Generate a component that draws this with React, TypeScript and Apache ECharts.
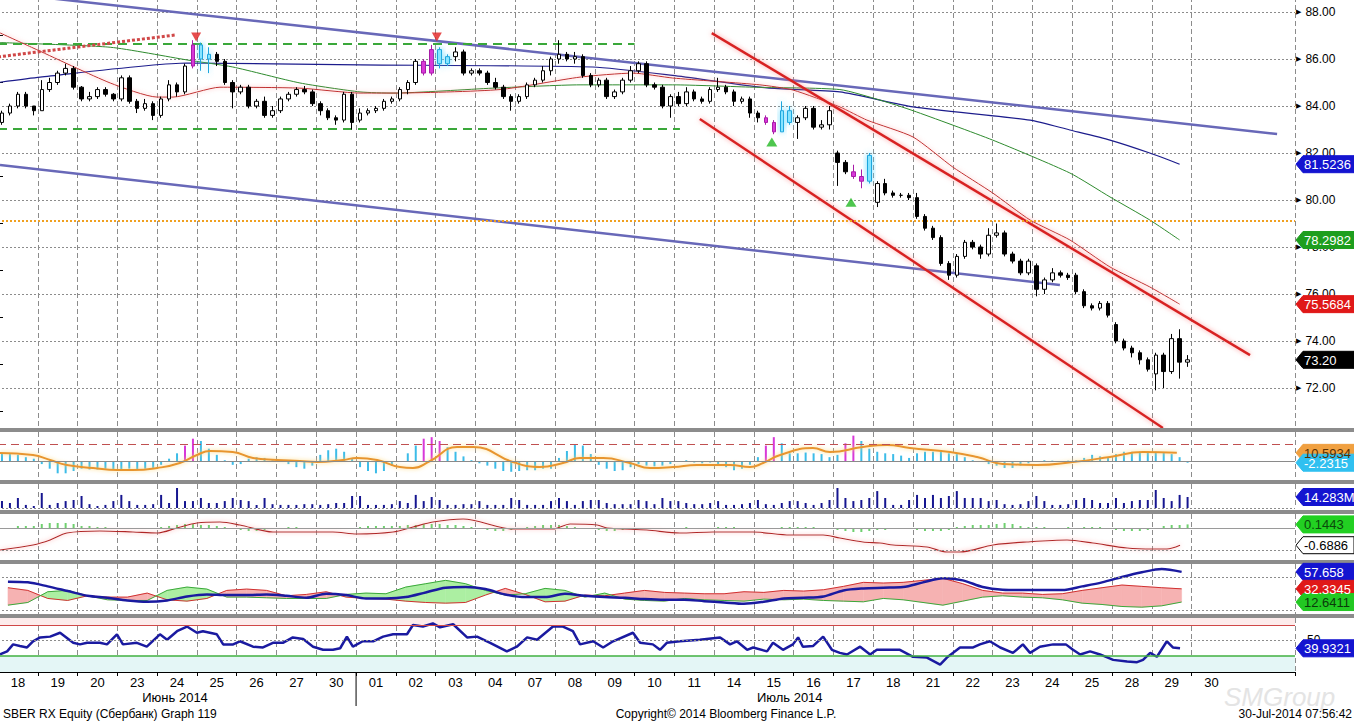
import React, { useEffect, useRef } from "react";
import * as echarts from "echarts";

const FONT = "'Liberation Sans', Arial, sans-serif";

// ---------- axis / category structure ----------
const dayLabels = ["18","19","20","23","24","25","26","27","30","01","02","03","04","07","08","09","10","11","14","15","16","17","18","21","22","23","24","25","28","29","30"];
const monthLabels = [
  { text: "Июнь 2014", day: 4.45 },
  { text: "Июль 2014", day: 19.9 },
];
const monthBreakDay = 9;
const BARS_PER_DAY = 5;
const CATEGORY_COUNT = 163;
const DAY_SPAN = CATEGORY_COUNT / BARS_PER_DAY;
const priceTicks = { min: 70, max: 90, interval: 2 };

// ---------- price candles [open, close, low, high], 5 per day ----------
const candles: number[][] = [
  // 18 Jun
  [83.3,83.7,83.2,83.8],[83.7,84.0,83.6,84.1],[84.0,84.5,83.9,84.6],[84.5,84.0,83.9,84.6],[84.0,83.8,83.6,84.0],
  // 19
  [83.8,84.7,83.8,85.1],[84.7,85.0,84.6,85.2],[85.0,85.4,84.9,85.5],[85.4,85.6,85.3,85.8],[85.6,84.8,84.7,85.7],
  // 20
  [84.8,84.3,84.2,84.85],[84.3,84.4,84.2,84.6],[84.4,84.7,84.3,84.8],[84.7,84.5,84.4,84.8],[84.5,84.3,84.2,84.55],
  // 23
  [84.3,85.2,84.2,85.3],[85.2,84.2,84.1,85.3],[84.2,83.9,83.7,84.3],[83.9,84.1,83.8,84.3],[84.1,83.6,83.4,84.2],
  // 24
  [83.6,84.3,83.5,84.4],[84.3,84.9,84.2,85.1],[84.9,84.6,84.4,85.0],[84.6,85.7,84.5,85.8],[85.7,86.6,85.6,86.8],
  // 25
  [86.6,86.0,85.5,86.7],[86.0,86.2,85.4,86.5],[86.2,85.9,85.7,86.3],[85.9,85.0,84.9,86.0],[85.0,84.6,83.9,85.1],
  // 26
  [84.6,84.8,84.5,84.9],[84.8,84.0,83.9,84.9],[84.0,84.2,83.9,84.3],[84.2,83.6,83.5,84.4],[83.6,83.8,83.5,84.0],
  // 27
  [83.8,84.3,83.7,84.4],[84.3,84.5,84.2,84.6],[84.5,84.7,84.4,84.8],[84.7,84.6,84.5,84.85],[84.6,84.1,84.0,84.7],
  // 30
  [84.1,83.8,83.6,84.2],[83.8,83.5,83.4,83.9],[83.5,83.4,83.2,83.6],[83.4,84.5,83.3,84.6],[84.5,83.3,83.0,84.6],
  // 01 Jul
  [83.4,83.7,83.3,83.9],[83.7,83.8,83.6,83.9],[83.8,83.9,83.7,84.0],[83.9,84.2,83.8,84.3],[84.2,84.3,84.1,84.4],
  // 02
  [84.3,84.7,84.2,84.8],[84.7,85.0,84.5,85.1],[85.0,85.9,84.9,86.0],[85.9,85.4,85.3,86.0],[85.4,86.4,85.3,86.6],
  // 03
  [86.4,85.8,85.6,86.5],[85.8,86.1,85.7,86.2],[86.1,86.3,85.9,86.5],[86.3,85.4,85.3,86.4],[85.4,85.5,85.3,85.6],
  // 04
  [85.5,85.4,85.3,85.6],[85.4,85.0,84.9,85.5],[85.0,84.8,84.7,85.2],[84.8,84.4,84.3,84.9],[84.4,84.2,83.8,84.5],
  // 07
  [84.2,84.4,84.1,84.5],[84.4,84.9,84.3,85.0],[84.9,85.1,84.8,85.2],[85.1,85.5,85.0,85.7],[85.5,86.0,85.3,86.1],
  // 08
  [86.0,86.2,85.8,86.8],[86.2,86.0,85.9,86.3],[86.0,86.1,85.8,86.3],[86.1,85.3,85.2,86.2],[85.3,84.9,84.8,85.4],
  // 09
  [84.9,85.1,84.8,85.2],[85.1,84.4,84.3,85.2],[84.4,84.6,84.3,84.7],[84.6,85.1,84.5,85.2],[85.1,85.5,85.0,85.7],
  // 10
  [85.5,85.8,85.4,85.9],[85.8,84.9,84.8,85.9],[84.9,84.8,84.7,85.0],[84.8,84.0,83.9,84.9],[84.0,84.4,83.5,84.5],
  // 11
  [84.4,84.1,84.0,84.6],[84.1,84.6,84.0,84.8],[84.6,84.3,84.2,84.7],[84.3,84.2,84.1,84.4],[84.2,84.7,84.1,84.8],
  // 14
  [84.7,84.8,84.6,85.2],[84.8,84.6,84.5,84.9],[84.6,84.2,84.0,84.7],[84.2,84.3,84.1,84.4],[84.3,83.7,83.5,84.4],
  // 15
  [83.7,83.5,83.3,83.8],[83.5,83.3,83.2,83.6],[83.3,82.9,82.8,83.4],[82.9,83.8,82.9,84.2],[83.8,83.3,83.2,84.0],
  // 16
  [83.3,83.5,82.6,83.6],[83.5,83.9,83.4,84.0],[83.9,83.1,83.0,84.0],[83.1,83.2,83.0,83.4],[83.2,83.8,83.0,84.0],
  // 17
  [82.0,81.6,80.6,82.1],[81.6,81.2,81.1,81.7],[81.2,81.0,80.9,81.5],[81.0,80.8,80.5,81.3],[80.8,81.9,80.7,82.0],
  // 18
  [79.9,80.7,79.7,80.8],[80.7,80.3,80.2,80.9],[80.3,80.2,80.1,80.4],[80.2,80.2,80.1,80.3],[80.2,80.1,80.0,80.3],
  // 21
  [80.1,79.3,79.2,80.3],[79.3,78.8,78.7,79.4],[78.8,78.4,78.3,78.9],[78.4,77.3,77.2,78.5],[77.3,76.8,76.6,77.4],
  // 22
  [76.8,77.6,76.7,77.7],[77.6,78.2,77.5,78.3],[78.2,78.0,77.9,78.3],[78.0,77.7,77.5,78.1],[77.7,78.5,77.6,78.8],
  // 23
  [78.5,78.6,78.4,79.0],[78.6,77.7,77.6,78.7],[77.7,77.4,77.3,77.8],[77.4,76.9,76.8,77.5],[76.9,77.4,76.8,77.5],
  // 24
  [77.2,76.2,75.9,77.3],[76.2,76.6,76.0,76.7],[76.6,76.9,76.5,77.1],[76.9,76.8,76.7,77.0],[76.8,76.7,76.6,76.9],
  // 25
  [76.8,76.1,76.0,76.9],[76.1,75.5,75.4,76.2],[75.5,75.4,75.3,75.6],[75.4,75.6,75.3,75.7],[75.6,75.1,75.0,75.7],
  // 28
  [74.7,74.0,73.9,74.8],[74.0,73.7,73.6,74.1],[73.7,73.5,73.3,73.8],[73.5,73.2,73.0,73.6],[73.2,72.8,72.7,73.3],
  // 29
  [72.6,73.4,71.9,73.5],[73.4,72.7,72.0,73.5],[72.7,74.1,72.6,74.3],[74.1,73.1,72.4,74.5],[73.1,73.2,72.9,73.4],
];
const magentaCandles = [24, 53, 54, 96, 97, 107, 108];
const cyanCandles = [25, 26, 55, 56, 98, 99, 109];

// moving averages [day position, price]
const maBlue = [[0,85.0],[1.06,85.23],[4.75,85.83],[9.1,85.75],[14.95,85.66],[16.96,85.3],[19.33,84.77],[21.16,84.6],[23.0,83.96],[25.94,83.4],[26.94,82.98],[27.95,82.55],[28.95,82.0],[29.7,81.5236]];
const maGreen = [[0,86.7],[2.82,86.5],[4.75,85.96],[5.9,85.66],[7.59,84.98],[9.1,84.6],[9.93,84.55],[12.44,84.76],[14.63,84.9],[16.96,84.9],[18.98,84.8],[21.16,84.7],[22.17,84.25],[23.0,83.8],[25.0,82.55],[26.94,81.15],[27.95,80.13],[28.95,79.15],[29.7,78.2982]];
const maRed = [[0,87.15],[0.88,86.47],[2.82,84.98],[4.0,84.38],[4.4,84.38],[5.58,84.8],[7.59,84.76],[9.1,84.55],[9.93,84.55],[12.62,84.7],[14.63,85.23],[15.96,85.4],[16.96,85.19],[19.15,84.9],[19.98,84.68],[21.16,83.96],[21.84,83.4],[23.0,82.68],[24.0,81.4],[25.0,80.3],[25.94,79.15],[26.94,78.3],[27.95,77.15],[28.95,76.3],[29.7,75.5684]];

// drawn studies
const trendUpperSlate = [[0,88.83],[32.15,82.81]];
const trendLowerSlate = [[0.05,81.49],[26.69,76.38]];
const channelUpper = [[17.94,87.1],[31.47,73.4]];
const channelLower = [[17.64,83.45],[29.28,70.3]];
const greenDashUpper = [[0,86.64],[16.0,86.64]];
const greenDashLower = [[0,83.02],[17.14,83.02]];
const redDotted = [[0,86.09],[4.45,87.02]];
const orangeLevel = 79.12;
const sellSignals = [[4.98,86.94],[11.03,86.94]];
const buySignals = [[19.45,82.47],[21.44,79.9]];

const priceTags = [
  { value: 81.5236, text: "81.5236", bg: "#1414d0", fg: "#ffffff" },
  { value: 78.2982, text: "78.2982", bg: "#1e9e1e", fg: "#ffffff" },
  { value: 75.5684, text: "75.5684", bg: "#e01818", fg: "#ffffff" },
  { value: 73.2, text: "73.20", bg: "#000000", fg: "#ffffff" },
];

// ---------- panel 1: oscillator histogram + signal ----------
const oscHist = [
  9,9,8,5,3, -4,-10,-16,-16,-13, -10,-11,-11,-10,-11, -11,-10,-11,-10,-9, -5,3,10,20,29,
  26,16,8,1,-5, -4,3,5,4,1, 0,-4,-8,-10,-6, 8,14,16,12,4, -8,-13,-16,-13,-6,
  -1,10,20,29,31, 26,18,12,6,1, -3,-6,-10,-13,-14, -13,-12,-12,-10,-10, 4,13,21,20,9,
  -5,-10,-13,-12,-8, -4,-6,-7,-6,-4, -1,1,-2,-3,-2, -4,-8,-12,-10,-5, 5,20,31,23,10,
  10,11,10,9,5, 8,23,33,26,16, 12,10,9,7,4, 10,12,12,12,10, 9,5,1,-1,-4,
  -6,-9,-9,-6,-3, -1,1,0.5,-0.5,0.5, 1,4,8,6,4, 9,12,12,12,12, 12,11,9,5,-2.2315,
];
const oscHistMagenta = [23, 24, 53, 54, 55, 96, 97, 106, 107];
const oscSignal = [[0.05,10.4],[0.88,7.8],[1.31,1.3],[1.73,-5.2],[2.39,-9.1],[2.99,-11.7],[3.39,-11.7],[4.0,-9.1],[4.57,-2.6],[5.0,7.8],[5.33,13],[5.9,11.7],[6.41,3.9],[7.01,1.3],[7.59,0],[8.02,-1.3],[8.67,1.3],[9.02,3.9],[9.53,1.3],[10.1,-7.8],[10.43,-9.1],[10.86,0],[11.54,18.2],[11.94,18.2],[12.94,-1.3],[13.62,-7.8],[14.2,-2.6],[14.63,3.9],[15.21,3.9],[15.88,-2.6],[16.39,-9.1],[16.97,-7.8],[17.57,-5.2],[18.4,-5.2],[18.9,-7.8],[19.23,-2.6],[19.66,7.8],[20.48,16.9],[20.91,11.7],[21.74,18.2],[22.34,20.8],[22.92,16.9],[23.93,11.7],[24.61,5.2],[25.26,-3.9],[26.11,-5.2],[27.02,-1.3],[27.95,5.2],[28.78,11.7],[29.63,10.5934]];
const oscLevel = 22.1;

// ---------- panel 2: volume (millions) ----------
const volume = [
  9,6.5,13,4,2.6, 19.5,4,6.5,9,10.4, 15.6,5,2.6,4,9, 17,9,4,4,5, 17,6.5,26,9,9,
  13,6.5,6.5,9,13, 10.4,9,4,13,5, 4,4,4,5,5, 4,5,6.5,6.5,15.6, 15.6,4,4,4,5,
  9,6.5,17,9,14.3, 10.4,4,4,5,5, 9,4,4,4,13, 10.4,4,4,4,9, 13,9,4,9,10.4,
  10.4,6.5,5,5,5, 10.4,9,5,13,9, 9,6.5,5,5,6.5, 9,4,4,5,6.5, 10.4,5,4,6.5,9,
  9,6.5,4,6.5,10.4, 26,13,9,10.4,13, 22,13,4,4,10.4, 17,13,17,13,15.6, 22,13,13,13,9,
  10.4,5,4,5,9, 15.6,9,4,4,5, 10.4,13,10.4,6.5,6.5, 13,6.5,9,10.4,10.4, 23.4,13,9,17,14.283,
];

// ---------- panel 3: histogram + line ----------
const p3Hist = [
  0,0,0.08,0.08,0.08, 0.16,0.2,0.2,0.2,0.16, 0.08,0.08,0.04,0.04,0, 0,0,0,0,0, 0.04,0.08,0.12,0.16,0.16,
  0.12,0.12,0.08,0.04,0, -0.08,-0.12,-0.12,-0.08,-0.04, 0,0.04,0.04,0,0, 0,0,0,0,0, 0.04,0.08,0.08,0.08,0.08,
  0.08,0.12,0.12,0.16,0.16, 0.16,0.12,0.12,0.08,0.04, -0.04,-0.08,-0.12,-0.12,-0.08, 0,0.04,0.08,0.12,0.12, 0.12,0.08,0.04,0,-0.04,
  -0.08,-0.12,-0.12,-0.08,-0.04, 0,0,0,0,0, 0,0.04,0,0,0, 0.04,0.04,0.04,0,0, 0,0,0,0.04,0.04,
  0.04,0.04,0.04,0,0, -0.08,-0.12,-0.16,-0.16,-0.12, -0.08,-0.08,-0.04,-0.04,0, -0.08,-0.12,-0.12,-0.12,-0.08, 0.04,0.08,0.12,0.12,0.12,
  0.16,0.2,0.16,0.08,0.04, 0.04,0.04,0,0,0.04, 0,0.04,0.04,0.04,0, -0.08,-0.12,-0.12,-0.12,-0.08, 0,0.08,0.12,0.12,0.1443,
];
const p3Line = [[0.05,-0.88],[0.88,-0.68],[1.31,-0.48],[1.73,-0.2],[2.56,-0.12],[3.39,-0.16],[4.0,-0.2],[4.5,0],[5.0,0.2],[5.58,0.24],[6.08,0.12],[6.91,-0.16],[7.59,-0.16],[8.42,-0.16],[9.02,-0.24],[9.93,-0.16],[10.43,0.04],[10.93,0.24],[11.69,0.36],[12.94,-0.04],[13.95,-0.04],[14.38,0.16],[15.06,0.12],[15.31,0],[16.31,-0.08],[17.14,-0.2],[17.97,-0.16],[18.98,-0.16],[19.91,-0.28],[20.74,-0.28],[21.16,-0.4],[21.74,-0.56],[22.17,-0.6],[22.5,-0.68],[23.35,-0.76],[23.85,-0.96],[24.18,-0.96],[25.01,-0.68],[25.86,-0.56],[26.87,-0.48],[27.52,-0.6],[28.38,-0.8],[29.03,-0.84],[29.38,-0.84],[29.71,-0.6886]];
const p3Dotted = -0.88;

// ---------- panel 4: DMI (two points per day) ----------
const dmiPlus = [34,30,18,15,22,20,20,26,16,14,18,30,32,30,22,24,28,20,18,17,14,12,11,12,23,33,24,13,14,23,22,26,30,27,26,25,25,28,27,30,29,31,36,42,41,42,45,48,40,30,26,26,24,25,30,34,38,36,34,32.3345];
const dmiMinus = [8,12,28,30,22,16,15,15,30,35,32,20,20,19,18,18,18,24,26,25,35,40,45,40,30,23,25,33,30,20,26,17,15,14,18,16,15,14,17,16,17,15,14,13,18,16,12,8,14,20,22,20,19,16,11,9,6,5,7,12.6411];
const adx = [43,42,36,29,22,19,15,13,15,21,24,23,23,24,22,19,25,23,18,18,20,27,34,35,32,24,20,20,25,22,20,19,17,16,16,14,12,10,13,18,19,21,30,33,34,35,42,48,45,35,31,30.5,30.5,30.5,36,42,50,57,62,57.658];

// ---------- panel 5: RSI ----------
const rsi = [[0.05,32],[0.23,36],[0.38,45],[0.55,43],[0.73,41],[0.88,49],[1.06,54],[1.31,55],[1.56,60],[1.89,47],[2.06,45],[2.24,47],[2.56,47],[2.74,45],[2.99,58],[3.14,45],[3.49,47],[3.74,42],[4.07,58],[4.25,51],[4.5,62],[4.75,68],[5.0,60],[5.15,62],[5.5,58],[5.66,45],[5.91,45],[6.08,49],[6.41,42],[6.66,41],[6.91,47],[7.16,47],[7.41,54],[7.67,52],[7.92,42],[8.17,38],[8.42,38],[8.6,40],[8.77,55],[8.92,42],[9.17,49],[9.43,49],[9.68,55],[9.93,58],[10.28,58],[10.43,70],[10.68,68],[10.93,72],[11.11,67],[11.44,71],[11.79,54],[12.04,55],[12.37,47],[12.79,36],[13.04,42],[13.3,54],[13.55,51],[13.95,68],[14.2,68],[14.45,62],[14.63,45],[14.96,49],[15.21,41],[15.46,49],[15.96,60],[16.14,47],[16.46,45],[16.64,38],[16.81,47],[17.14,49],[17.64,51],[18.15,54],[18.4,45],[18.57,49],[18.83,38],[18.98,41],[19.33,36],[19.48,47],[19.73,38],[19.98,45],[20.11,54],[20.23,42],[20.49,43],[20.74,55],[20.96,38],[21.16,34],[21.34,32],[21.67,42],[21.92,32],[22.09,38],[22.42,38],[22.67,38],[23.0,29],[23.35,28],[23.68,19],[23.85,28],[24.0,34],[24.18,41],[24.51,41],[24.68,45],[24.93,49],[25.19,41],[25.51,34],[25.76,45],[25.94,34],[26.19,42],[26.52,45],[26.84,45],[27.02,38],[27.2,32],[27.45,36],[27.7,32],[28.03,25],[28.38,23],[28.63,22],[28.78,25],[28.96,34],[29.13,29],[29.38,49],[29.53,41],[29.71,39.9321]];
const rsiLevels = { high: 70, mid: 50, low: 30 };

const subTags = [
  { axis: 1, value: 10.5934, text: "10.5934", bg: "#f0a040", fg: "#5a3000" },
  { axis: 1, value: -2.2315, text: "-2.2315", bg: "#30c0f0", fg: "#ffffff" },
  { axis: 2, value: 14.283, text: "14.283M", bg: "#1414d0", fg: "#ffffff" },
  { axis: 3, value: 0.1443, text: "0.1443", bg: "#22d022", fg: "#0a4a0a" },
  { axis: 3, value: -0.6886, text: "-0.6886", bg: "#ffffff", fg: "#000000", border: "#000000" },
  { axis: 4, value: 57.658, text: "57.658", bg: "#1414d0", fg: "#ffffff" },
  { axis: 4, value: 32.3345, text: "32.3345", bg: "#e01818", fg: "#ffffff" },
  { axis: 4, value: 12.6411, text: "12.6411", bg: "#22c822", fg: "#0a3a0a" },
  { axis: 5, value: 39.9321, text: "39.9321", bg: "#1414d0", fg: "#ffffff" },
];

// ---------- layout ----------
const panels = [
  { top: -35, height: 470, min: priceTicks.min, max: priceTicks.max },
  { top: 432, height: 48, min: -24.7, max: 37.7 },
  { top: 484, height: 24, min: 0, max: 31.2 },
  { top: 514, height: 46, min: -1.28, max: 0.56 },
  { top: 564, height: 50, min: -5.2, max: 69.4 },
  { top: 618, height: 54, min: 9.36, max: 79.03 },
];
const separatorsY = [428, 480, 510, 560, 614];

const isDayBoundary = (i: number) => i % BARS_PER_DAY === 0 && i > 0 && i <= 150;
const dmiX = (i: number) => Math.floor(i / 2) + (i % 2 ? 0.75 : 0.25);

function lineS(xIdx: number, yIdx: number, data: any[], lineStyle: any, extra: any = {}) {
  return { type: "line", xAxisIndex: xIdx, yAxisIndex: yIdx, data, symbol: "none", silent: true, lineStyle, z: 3, ...extra };
}
function hLines(items: [number, any][]) {
  return {
    silent: true, symbol: ["none", "none"], label: { show: false },
    data: items.map(([y, style]) => ({ yAxis: y, lineStyle: style })),
  };
}

// fill between the two directional lines, split where they cross
function renderDmiFill(_params: any, api: any) {
  const i = api.value(2);
  const x0 = dmiX(i), x1 = dmiX(i + 1);
  const r0 = dmiPlus[i], r1 = dmiPlus[i + 1], g0 = dmiMinus[i], g1 = dmiMinus[i + 1];
  const d0 = r0 - g0, d1 = r1 - g1;
  const P = (x: number, y: number) => api.coord([x, y]);
  const pink = "#f6b2b2", green = "#acefa2";
  const poly = (pts: number[][], fill: string) => ({ type: "polygon", shape: { points: pts }, style: { fill, stroke: fill, lineWidth: 0.5 } });
  const children: any[] = [];
  if (d0 * d1 >= 0) {
    children.push(poly([P(x0, r0), P(x1, r1), P(x1, g1), P(x0, g0)], d0 + d1 >= 0 ? pink : green));
  } else {
    const t = d0 / (d0 - d1);
    const xc = x0 + t * (x1 - x0);
    const yc = r0 + t * (r1 - r0);
    children.push(poly([P(x0, r0), P(xc, yc), P(x0, g0)], d0 > 0 ? pink : green));
    children.push(poly([P(xc, yc), P(x1, r1), P(x1, g1)], d1 > 0 ? pink : green));
  }
  return { type: "group", children };
}

function buildOption() {
  const categories = Array.from({ length: CATEGORY_COUNT }, (_, i) => "b" + i);
  const grid = panels.map((p) => ({ left: -2, width: 1297, top: p.top, height: p.height, containLabel: false, outerBoundsMode: "none" }));
  const xAxis: any[] = [];
  panels.forEach((_, g) => {
    const last = g === panels.length - 1;
    xAxis.push({
      type: "category", gridIndex: g, data: categories, boundaryGap: true, position: "bottom",
      axisLine: { show: last, onZero: false, lineStyle: { color: "#000", width: 1 } },
      axisTick: { show: last, interval: isDayBoundary, length: 4, lineStyle: { color: "#000" } },
      axisLabel: {
        show: last, interval: 0, margin: 4, fontSize: 13, color: "#000", fontFamily: FONT,
        formatter: (_v: string, i: number) => (i % BARS_PER_DAY === 2 ? dayLabels[(i - 2) / BARS_PER_DAY] ?? "" : ""),
      },
      splitLine: { show: true, interval: isDayBoundary, lineStyle: { color: "#8c8c8c", type: [5, 3], width: 1 } },
    });
    xAxis.push({ type: "value", gridIndex: g, min: 0, max: DAY_SPAN, show: false });
  });
  const yAxis: any[] = panels.map((p, g) =>
    g === 0
      ? {
          type: "value", gridIndex: 0, position: "right", min: p.min, max: p.max, interval: priceTicks.interval,
          axisLine: { show: true, lineStyle: { color: "#000" } },
          axisTick: { show: false },
          minorTick: { show: true, splitNumber: 2, length: 5, lineStyle: { color: "#000" } },
          axisLabel: {
            show: true, margin: 1, showMinLabel: false, showMaxLabel: false,
            formatter: (v: number) => `{a|▶}{b|${v.toFixed(2)}}`,
            rich: {
              a: { fontSize: 7, color: "#000", fontFamily: "DejaVu Sans" },
              b: { fontSize: 12, color: "#000", fontFamily: FONT, padding: [0, 0, 0, 4] },
            },
          },
          splitLine: { show: true, showMinLine: false, showMaxLine: false, lineStyle: { color: "#8c8c8c", type: [2, 2], width: 1 } },
        }
      : {
          type: "value", gridIndex: g, position: "right", min: p.min, max: p.max,
          axisLine: { show: true, lineStyle: { color: "#000" } },
          axisTick: { show: false }, axisLabel: { show: false }, splitLine: { show: false },
        }
  );

  const magentaStyle = { color: "#d838d8", color0: "#d838d8", borderColor: "#a81aa8", borderColor0: "#a81aa8" };
  const cyanStyle = { color: "#86e4ff", color0: "#3cc4f0", borderColor: "#1ea6de", borderColor0: "#1ea6de", shadowBlur: 6, shadowColor: "rgba(90,215,255,0.9)" };

  const series: any[] = [
    // main panel studies
    lineS(1, 0, trendUpperSlate, { color: "#6868b8", width: 2.5 }),
    lineS(1, 0, trendLowerSlate, { color: "#6868b8", width: 2.5 }),
    lineS(1, 0, channelUpper, { color: "#d82424", width: 2.5, shadowColor: "rgba(255,120,120,0.7)", shadowBlur: 5 }),
    lineS(1, 0, channelLower, { color: "#d82424", width: 2.5, shadowColor: "rgba(255,120,120,0.7)", shadowBlur: 5 }),
    lineS(1, 0, greenDashUpper, { color: "#3aa83a", width: 2, type: [9, 6] }),
    lineS(1, 0, greenDashLower, { color: "#3aa83a", width: 2, type: [9, 6] }),
    lineS(1, 0, redDotted, { color: "#d04848", width: 3, type: [3, 2] }),
    lineS(1, 0, maBlue, { color: "#1c1c8c", width: 1.2 }, { smooth: 0.2, z: 2 }),
    lineS(1, 0, maGreen, { color: "#2e8b2e", width: 1 }, { smooth: 0.2, z: 2 }),
    lineS(1, 0, maRed, { color: "#c03030", width: 1, shadowColor: "rgba(255,140,140,0.8)", shadowBlur: 4 }, { smooth: 0.2, z: 2 }),
    {
      type: "candlestick", xAxisIndex: 0, yAxisIndex: 0, barWidth: 4, z: 5, silent: true,
      itemStyle: { color: "#ffffff", color0: "#000000", borderColor: "#000000", borderColor0: "#000000", borderWidth: 1 },
      data: candles.map((c, i) =>
        magentaCandles.includes(i) ? { value: c, itemStyle: magentaStyle } : cyanCandles.includes(i) ? { value: c, itemStyle: cyanStyle } : c
      ),
      markLine: hLines([[orangeLevel, { color: "#f0a020", width: 2, type: [2, 2] }]]),
    },
    { type: "scatter", xAxisIndex: 1, yAxisIndex: 0, symbol: "triangle", symbolSize: [10, 9], symbolRotate: 180, data: sellSignals, itemStyle: { color: "#e02020" }, z: 6, silent: true },
    { type: "scatter", xAxisIndex: 1, yAxisIndex: 0, symbol: "triangle", symbolSize: [11, 9], data: buySignals, itemStyle: { color: "#22b822" }, z: 6, silent: true },

    // panel 1
    {
      type: "bar", xAxisIndex: 2, yAxisIndex: 1, barWidth: 2, silent: true, z: 3,
      itemStyle: { color: "#3cbce8" },
      data: oscHist.map((v, i) => (oscHistMagenta.includes(i) ? { value: v, itemStyle: { color: "#d838d8" } } : v)),
      markLine: hLines([
        [oscLevel, { color: "#c05050", width: 1, type: [8, 5] }],
        [0, { color: "#8a8a8a", width: 1, type: "solid" }],
      ]),
    },
    lineS(3, 1, oscSignal, { color: "#e8952e", width: 2, shadowColor: "rgba(255,215,120,0.9)", shadowBlur: 4 }, { smooth: true, z: 4 }),

    // panel 2 volume
    {
      type: "bar", xAxisIndex: 4, yAxisIndex: 2, barWidth: 2, silent: true, z: 3,
      itemStyle: { color: "#161690" }, data: volume,
      markLine: hLines([[0, { color: "#8c8c8c", width: 1, type: [2, 2] }]]),
    },

    // panel 3
    {
      type: "bar", xAxisIndex: 6, yAxisIndex: 3, barWidth: 2, silent: true, z: 3,
      itemStyle: { color: "#6fd06f" }, data: p3Hist,
      markLine: hLines([
        [0, { color: "#9a9a9a", width: 1, type: "solid" }],
        [p3Dotted, { color: "#8c8c8c", width: 1, type: [2, 2] }],
      ]),
    },
    lineS(7, 3, p3Line, { color: "#b02828", width: 1.2, shadowColor: "rgba(255,150,150,0.9)", shadowBlur: 4 }, { smooth: 0.3 }),

    // panel 4 DMI
    {
      type: "custom", xAxisIndex: 9, yAxisIndex: 4, silent: true, z: 1, clip: true,
      renderItem: renderDmiFill,
      encode: { x: 0, y: 1 },
      data: dmiPlus.slice(0, -1).map((v, i) => [dmiX(i), v, i]),
    },
    lineS(9, 4, dmiPlus.map((v, i) => [dmiX(i), v]), { color: "#d03030", width: 1 }, {
      markLine: hLines([
        [50, { color: "#8c8c8c", width: 1, type: [2, 2] }],
        [0, { color: "#8c8c8c", width: 1, type: [2, 2] }],
      ]),
    }),
    lineS(9, 4, dmiMinus.map((v, i) => [dmiX(i), v]), { color: "#3aa83a", width: 1 }),
    lineS(9, 4, adx.map((v, i) => [dmiX(i), v]), { color: "#1a1aa0", width: 2.5 }, { z: 4, smooth: 0.3 }),

    // panel 5 RSI
    lineS(11, 5, rsi, { color: "#1a1aa0", width: 2.5 }, {
      z: 4,
      markLine: hLines([
        [rsiLevels.high, { color: "#d04848", width: 1, type: "solid" }],
        [rsiLevels.mid, { color: "#8c8c8c", width: 1, type: [2, 2] }],
        [rsiLevels.low, { color: "#40b040", width: 1.5, type: "solid" }],
      ]),
      markArea: {
        silent: true,
        data: [
          [{ yAxis: rsiLevels.high, itemStyle: { color: "#fdecec" } }, { yAxis: panels[5].max }],
          [{ yAxis: panels[5].min, itemStyle: { color: "#e4f6f6" } }, { yAxis: rsiLevels.low }],
        ],
      },
    }),
  ];

  return {
    animation: false,
    backgroundColor: "#ffffff",
    textStyle: { fontFamily: FONT },
    grid, xAxis, yAxis, series,
  };
}

function tag(y: number, text: string, bg: string, fg: string, border?: string) {
  return {
    type: "group", x: 1296, y, z: 120,
    children: [
      { type: "polygon", z: 120, shape: { points: [[0, 0], [7, -8.5], [58, -8.5], [58, 8.5], [7, 8.5]] }, style: { fill: bg, stroke: border || bg, lineWidth: 1 } },
      { type: "text", z: 121, x: 8, y: 0.5, style: { text, fill: fg, fontSize: 13, fontFamily: FONT, align: "left", verticalAlign: "middle", textAlign: "left", textVerticalAlign: "middle" } },
    ],
  };
}

function txt(x: number, y: number, text: string, opts: any = {}) {
  return {
    type: "text", x, y, z: 110,
    style: { text, fill: "#000", fontSize: 12, fontFamily: FONT, align: opts.align || "left", textAlign: opts.align || "left", verticalAlign: "middle", textVerticalAlign: "middle", ...opts.style },
  };
}

function buildGraphics(chart: any) {
  const py = (axis: number, v: number) => chart.convertToPixel({ yAxisIndex: axis }, v) as number;
  const px = (d: number) => chart.convertToPixel({ xAxisIndex: 11 }, d) as number;
  const els: any[] = [];
  separatorsY.forEach((y) => els.push({ type: "rect", z: 100, shape: { x: 0, y, width: 1354, height: 4 }, style: { fill: "#8c8c8c" } }));
  els.push(txt(1307, py(5, rsiLevels.mid) - 1, "50"));
  priceTags.forEach((t) => els.push(tag(py(0, t.value), t.text, t.bg, t.fg)));
  subTags.forEach((t) => els.push(tag(py(t.axis, t.value), t.text, t.bg, t.fg, (t as any).border)));
  monthLabels.forEach((m) => els.push(txt(px(m.day), 697, m.text, { align: "center", style: { fontSize: 13 } })));
  const bx = px(monthBreakDay);
  els.push({ type: "line", z: 110, shape: { x1: bx, y1: 672, x2: bx, y2: 706 }, style: { stroke: "#000", lineWidth: 1 } });
  els.push(txt(1224, 697, "SMGroup", { style: { fontSize: 26, fontStyle: "italic", fill: "#e4e4e4" } }));
  els.push(txt(3, 714, "SBER RX Equity (Сбербанк) Graph 119"));
  els.push(txt(726, 714, "Copyright© 2014 Bloomberg Finance L.P.", { align: "center" }));
  els.push(txt(1352, 714, "30-Jul-2014 07:56:42", { align: "right" }));
  return els;
}

export default function App() {
  const ref = useRef<HTMLDivElement>(null);
  useEffect(() => {
    document.body.style.margin = "0";
    const chart = echarts.init(ref.current!, null, { renderer: "svg", width: 1354, height: 723 });
    chart.setOption(buildOption() as any);
    chart.setOption({ graphic: { elements: buildGraphics(chart) } } as any);
    return () => chart.dispose();
  }, []);
  return <div ref={ref} style={{ position: "absolute", left: 0, top: 0, width: 1354, height: 723, background: "#fff" }} />;
}
